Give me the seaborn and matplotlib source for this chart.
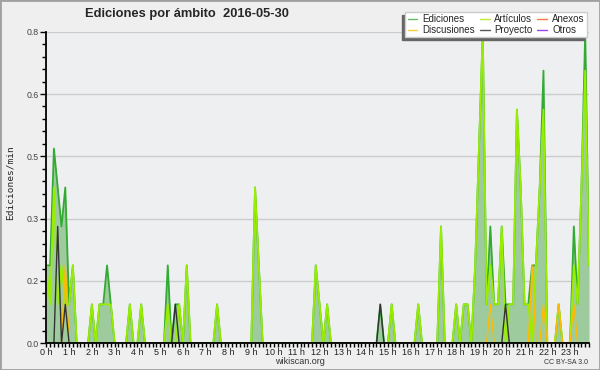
import matplotlib
matplotlib.use("Agg")
import matplotlib.pyplot as plt
import seaborn as sns
from matplotlib.lines import Line2D
from matplotlib.patches import Rectangle

# === DATA : ediciones por minuto, bloques de 10 minutos ===
minutos = list(range(0, 1440, 10))

ediciones = [
    .2, .2, .5, .4, .3, .4, .1, .2, 0, 0, 0, 0,
    .1, 0, .1, .1, .2, .1, 0, 0, 0, 0, .1, 0,
    0, .1, 0, 0, 0, 0, 0, 0, .2, 0, .1, .1,
    0, .2, 0, 0, 0, 0, 0, 0, 0, .1, 0, 0,
    0, 0, 0, 0, 0, 0, 0, .4, .2, 0, 0, 0,
    0, 0, 0, 0, 0, 0, 0, 0, 0, 0, 0, .2,
    .1, 0, .1, 0, 0, 0, 0, 0, 0, 0, 0, 0,
    0, 0, 0, 0, .1, 0, 0, .1, 0, 0, 0, 0,
    0, 0, .1, 0, 0, 0, 0, 0, .3, 0, 0, 0,
    .1, 0, .1, .1, 0, .2, .5, .8, .1, .3, .1, .1,
    .3, .1, .1, .1, .6, .4, .1, .1, .2, .2, .4, .7,
    0, 0, 0, .1, 0, 0, 0, .3, .1, .4, .8, .2,
]

articulos = [
    .2, .1, .4, .1, .2, .1, .1, .2, 0, 0, 0, 0,
    .1, 0, .1, .1, .1, .1, 0, 0, 0, 0, .1, 0,
    0, .1, 0, 0, 0, 0, 0, 0, .1, 0, 0, .1,
    0, .2, 0, 0, 0, 0, 0, 0, 0, .1, 0, 0,
    0, 0, 0, 0, 0, 0, 0, .4, .2, 0, 0, 0,
    0, 0, 0, 0, 0, 0, 0, 0, 0, 0, 0, .2,
    .1, 0, .1, 0, 0, 0, 0, 0, 0, 0, 0, 0,
    0, 0, 0, 0, 0, 0, 0, .1, 0, 0, 0, 0,
    0, 0, .1, 0, 0, 0, 0, 0, .3, 0, 0, 0,
    .1, 0, .1, .1, 0, .2, .5, .8, .1, .2, .1, .1,
    .3, 0, .1, .1, .6, .4, .1, .1, 0, .2, .4, .6,
    0, 0, 0, .1, 0, 0, 0, .2, .1, .4, .7, .2,
]

discusiones = [0] * 144
for k, v in [(5, .2), (117, .1), (128, .2), (131, .1), (135, .1), (139, .1)]:
    discusiones[k] = v

proyecto = [0] * 144
for k, v in [(3, .3), (5, .1), (34, .1), (88, .1), (121, .1)]:
    proyecto[k] = v

hour_labels = [f"{h} h" for h in range(24)]
ytick_vals = [0, 0.16, 0.32, 0.48, 0.64, 0.8]
ytick_labels = ["0.0", "0.2", "0.3", "0.5", "0.6", "0.8"]

series_names = ["Ediciones", "Discusiones", "Artículos", "Proyecto", "Anexos", "Otros"]
series_colors = ["#66bb66", "#ffcc33", "#bbee33", "#555555", "#ff7744", "#9944ee"]

# === STYLE ===
sns.set_theme(style="white")
plt.rcParams["font.family"] = ["Liberation Sans", "DejaVu Sans"]

fig = plt.figure(figsize=(6, 3.7), dpi=100, facecolor="#efefef")
ax = fig.add_axes([0.0772, 0.0722, 0.9045, 0.8421])
ax.set_facecolor("#eeeff1")

# grid
for v in ytick_vals:
    ax.axhline(v, color="#cccccc", lw=1, zorder=0)

# area + lines
ax.fill_between(minutos, ediciones, 0, color="#9ecb9e", lw=0, zorder=1)
sns.lineplot(x=minutos, y=ediciones, ax=ax, color="#33aa33", lw=1.3, zorder=2)
sns.lineplot(x=minutos, y=articulos, ax=ax, color="#99ee00", lw=1.3, zorder=3)
sns.lineplot(x=minutos, y=discusiones, ax=ax, color="#ffbb00", lw=1.0, zorder=4)
sns.lineplot(x=minutos, y=proyecto, ax=ax, color="#333333", lw=1.0, zorder=5)

ax.set_xlim(0, 1430)
ax.set_ylim(0, 0.8)

ax.set_xticks(list(range(0, 1440, 60)), hour_labels)
ax.set_xticks(minutos, minor=True)
ax.set_yticks(ytick_vals, ytick_labels)
ax.set_yticks([i * 0.032 for i in range(26)], minor=True)

ax.tick_params(axis="x", which="both", direction="out", length=3, width=1,
               color="black", labelsize=6.5, pad=0.5, labelcolor="#222222")
ax.tick_params(axis="y", which="major", direction="out", length=4.5, width=1,
               color="black", labelsize=6.3, pad=1, labelcolor="#444444")
ax.tick_params(axis="y", which="minor", direction="out", length=3, width=1,
               color="black")
ax.tick_params(bottom=True, left=True, which="both")

for side in ["top", "right"]:
    ax.spines[side].set_visible(False)
for side in ["left", "bottom"]:
    ax.spines[side].set_color("black")
    ax.spines[side].set_linewidth(1.3)
    ax.spines[side].set_zorder(6)

ax.set_xlabel("")
fig.text(10 / 600, 1 - 183 / 370, "Ediciones/min", fontsize=6.8, family="DejaVu Sans Mono",
         rotation=90, ha="center", va="center")

# title + footer
fig.text(85 / 600, 1 - 14 / 370, "Ediciones por ámbito  2016-05-30",
         fontsize=9.3, fontweight="bold", ha="left", va="center")
fig.text(0.5, 1 - 362 / 370, "wikiscan.org", fontsize=6.5, ha="center", va="center", color="#333333")
fig.text(588 / 600, 1 - 362 / 370, "CC BY-SA 3.0", fontsize=5, ha="right", va="center", color="#333333")

# legend
handles = [Line2D([0], [0], color=c, lw=1) for c in series_colors]
fig.legend(handles, series_names, ncol=3, loc="upper right",
           bbox_to_anchor=(587 / 600, 1 - 12 / 370), borderaxespad=0,
           fontsize=7, handlelength=1.0, handletextpad=0.5, columnspacing=0.5,
           labelspacing=0.05, borderpad=0.25, frameon=True, fancybox=False,
           edgecolor="#cccccc", facecolor="white", framealpha=1,
           shadow={"ox": -2.2, "oy": -2.2, "facecolor": "#666666",
                   "edgecolor": "#666666", "alpha": 1})

# outer frame
fig.patches.append(Rectangle((0, 0), 1, 1, transform=fig.transFigure, fill=False,
                             edgecolor="#a0a0a0", lw=2))

fig.savefig("out.png", dpi=100, facecolor=fig.get_facecolor())
